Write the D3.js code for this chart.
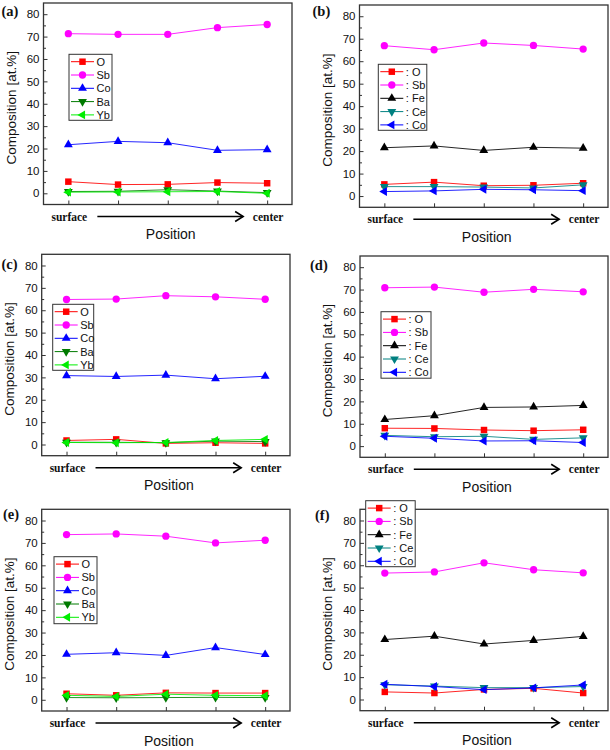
<!DOCTYPE html>
<html><head><meta charset="utf-8">
<script src="https://cdn.jsdelivr.net/npm/d3@7"></script>
<style>body{margin:0;background:#fff}svg{display:block}</style>
</head><body><svg id="c" width="610" height="750"></svg>
<script>
// ---------- data ----------
const positions = [1, 2, 3, 4, 5];
const endLabels = ["surface", "center"];
const yTicks = [0, 10, 20, 30, 40, 50, 60, 70, 80];
const yMinorTicks = [5, 15, 25, 35, 45, 55, 65, 75];
const panelLabels = ["(a)", "(b)", "(c)", "(d)", "(e)", "(f)"];
const seriesNamesYb = ["O", "Sb", "Co", "Ba", "Yb"];
const seriesNamesCe = ["O", "Sb", "Fe", "Ce", "Co"];
const legendPrefixes = ["", ": ", "", ": ", "", ": "];

const a_O  = [5.2, 3.9, 4.0, 4.8, 4.5];
const a_Sb = [71.3, 71.0, 71.0, 74.0, 75.4];
const a_Co = [21.7, 23.2, 22.6, 19.2, 19.5];
const a_Ba = [0.8, 0.9, 1.6, 1.0, 0.3];
const a_Yb = [0.5, 0.6, 0.7, 0.8, 0.0];

const b_O  = [5.2, 6.2, 4.6, 4.8, 5.7];
const b_Sb = [66.9, 65.1, 68.1, 67.0, 65.4];
const b_Fe = [21.5, 22.3, 20.3, 21.7, 21.3];
const b_Ce = [4.2, 4.2, 4.0, 3.6, 5.0];
const b_Co = [2.0, 2.3, 3.0, 2.8, 2.4];

const c_O  = [1.8, 2.3, 0.5, 0.8, 0.5];
const c_Sb = [64.8, 65.0, 66.5, 66.0, 64.9];
const c_Co = [30.8, 30.4, 31.0, 29.4, 30.5];
const c_Ba = [1.0, 1.0, 0.8, 1.5, 1.3];
const c_Yb = [0.9, 0.8, 0.9, 1.8, 2.3];

const d_O  = [8.0, 7.9, 7.2, 6.9, 7.3];
const d_Sb = [70.8, 71.1, 68.8, 70.1, 69.0];
const d_Fe = [11.9, 13.6, 17.3, 17.5, 18.2];
const d_Ce = [4.8, 4.2, 4.4, 3.0, 3.7];
const d_Co = [4.4, 3.5, 2.3, 2.4, 1.6];

const e_O  = [2.7, 2.0, 3.1, 3.0, 3.0];
const e_Sb = [73.7, 74.0, 73.0, 70.0, 71.2];
const e_Co = [20.3, 21.0, 19.8, 23.3, 20.2];
const e_Ba = [1.0, 0.9, 1.0, 1.1, 1.0];
const e_Yb = [2.0, 1.5, 2.5, 2.0, 1.8];

const f_O  = [3.4, 2.9, 4.5, 5.0, 2.9];
const f_Sb = [56.5, 57.0, 61.1, 58.0, 56.6];
const f_Fe = [26.8, 28.3, 24.8, 26.4, 28.2];
const f_Ce = [6.6, 6.0, 5.3, 5.3, 5.8];
const f_Co = [6.8, 5.8, 4.4, 5.2, 6.5];

const panelData = [
  [a_O, a_Sb, a_Co, a_Ba, a_Yb],
  [b_O, b_Sb, b_Fe, b_Ce, b_Co],
  [c_O, c_Sb, c_Co, c_Ba, c_Yb],
  [d_O, d_Sb, d_Fe, d_Ce, d_Co],
  [e_O, e_Sb, e_Co, e_Ba, e_Yb],
  [f_O, f_Sb, f_Fe, f_Ce, f_Co]
];

// ---------- styles ----------
const stylesYb = [
  {color: "#ff0000", sym: "square", rot: 0},
  {color: "#ff00ff", sym: "circle", rot: 0},
  {color: "#0000ff", sym: "tri", rot: 0},
  {color: "#007a00", sym: "tri", rot: 180},
  {color: "#00ee00", sym: "tri", rot: -90}
];
const stylesCe = [
  {color: "#ff0000", sym: "square", rot: 0},
  {color: "#ff00ff", sym: "circle", rot: 0},
  {color: "#000000", sym: "tri", rot: 0},
  {color: "#008080", sym: "tri", rot: 180},
  {color: "#0000ff", sym: "tri", rot: -90}
];

// ---------- layout ----------
const layout = [
  {l: 43.5, r: 292, t: 3,     b: 204.5, lab: [1.5, 15.5],   leg: [69, 54.3, 43, 66]},
  {l: 359.5, r: 608, t: 5,    b: 207.3, lab: [312.5, 16],   leg: [378.3, 64.3, 48.5, 66]},
  {l: 41.7, r: 290, t: 254.3, b: 455.7, lab: [1.5, 269],    leg: [52.7, 304.3, 41, 66]},
  {l: 360, r: 608, t: 256,    b: 457.3, lab: [310, 270],    leg: [381, 311.7, 50, 66.5]},
  {l: 41.7, r: 290, t: 509.3, b: 711,   lab: [3, 518.5],    leg: [54, 556.7, 43, 67]},
  {l: 360, r: 608, t: 509.3,  b: 710.7, lab: [315, 520],    leg: [365.7, 500.7, 49.5, 66]}
];

const svg = d3.select("#c");
const sans = "'Liberation Sans', Arial, sans-serif";
const serif = "'Liberation Serif', 'Times New Roman', serif";
const frameColor = "#333";

function symbolPath(s) {
  if (s.sym === "square") return d3.symbol(d3.symbolSquare, 42)();
  if (s.sym === "circle") return d3.symbol(d3.symbolCircle, 42)();
  return d3.symbol(d3.symbolTriangle, 34)();
}

panelData.forEach((series, pi) => {
  const L = layout[pi];
  const names = pi % 2 === 0 ? seriesNamesYb : seriesNamesCe;
  const styles = pi % 2 === 0 ? stylesYb : stylesCe;
  const x = d3.scaleLinear().domain([0.5, 5.5]).range([L.l, L.r]);
  const y = d3.scaleLinear().domain([-5, 85]).range([L.b, L.t]);
  const g = svg.append("g");

  // axes
  const yAx = g.append("g").attr("transform", `translate(${L.l},0)`)
    .call(d3.axisLeft(y).tickValues(yTicks).tickSize(-4).tickPadding(4).tickFormat(d3.format("d")));
  yAx.select(".domain").remove();
  yAx.selectAll("line").attr("stroke", frameColor).attr("stroke-width", 1);
  yAx.selectAll("text").attr("font-family", sans).attr("font-size", 11.5).attr("fill", "#111");
  const yMin = g.append("g").attr("transform", `translate(${L.l},0)`)
    .call(d3.axisLeft(y).tickValues(yMinorTicks).tickSize(-2.5).tickFormat(""));
  yMin.select(".domain").remove();
  yMin.selectAll("line").attr("stroke", frameColor).attr("stroke-width", 1);
  const xAx = g.append("g").attr("transform", `translate(0,${L.b})`)
    .call(d3.axisBottom(x).tickValues(positions).tickSize(-4).tickFormat(""));
  xAx.select(".domain").remove();
  xAx.selectAll("line").attr("stroke", frameColor).attr("stroke-width", 1);

  // frame
  g.append("rect").attr("x", L.l).attr("y", L.t).attr("width", L.r - L.l).attr("height", L.b - L.t)
    .attr("fill", "none").attr("stroke", frameColor).attr("stroke-width", 1.3);

  // series
  series.forEach((vals, si) => {
    const st = styles[si];
    const pts = vals.map((v, i) => [x(positions[i]), y(v)]);
    g.append("path").attr("d", d3.line()(pts)).attr("fill", "none")
      .attr("stroke", st.color).attr("stroke-width", 1).attr("stroke-opacity", 0.85);
    g.selectAll(null).data(pts).join("path")
      .attr("d", symbolPath(st))
      .attr("transform", d => `translate(${d[0]},${d[1]}) rotate(${st.rot})`)
      .attr("fill", st.color);
  });

  // legend
  const [lx, ly, lw, lh] = L.leg;
  const lg = g.append("g");
  lg.append("rect").attr("x", lx).attr("y", ly).attr("width", lw).attr("height", lh)
    .attr("fill", "#fff").attr("stroke", frameColor).attr("stroke-width", 1);
  const rowH = 13.3;
  names.forEach((n, si) => {
    const st = styles[si];
    const ry = ly + 7.4 + si * rowH;
    lg.append("line").attr("x1", lx + 2).attr("x2", lx + 25).attr("y1", ry).attr("y2", ry)
      .attr("stroke", st.color).attr("stroke-width", 1);
    lg.append("path").attr("d", symbolPath(st))
      .attr("transform", `translate(${lx + 13.5},${ry}) rotate(${st.rot})`).attr("fill", st.color);
    lg.append("text").attr("x", lx + 27.5).attr("y", ry).attr("dy", "0.36em")
      .attr("font-family", sans).attr("font-size", 11).attr("fill", "#111")
      .text(legendPrefixes[pi] + n);
  });

  // panel label
  g.append("text").attr("x", L.lab[0]).attr("y", L.lab[1])
    .attr("font-family", serif).attr("font-weight", "bold").attr("font-size", 14.5).attr("fill", "#111")
    .text(panelLabels[pi]);

  // y title
  const cy = (L.t + L.b) / 2 + 4;
  g.append("text").attr("transform", `translate(${L.l - 28},${cy}) rotate(-90)`)
    .attr("text-anchor", "middle").attr("font-family", sans).attr("font-size", 13.5).attr("fill", "#111")
    .text("Composition [at.%]");

  // surface / center labels
  const x1 = x(positions[0]), x5 = x(positions[positions.length - 1]);
  g.append("text").attr("x", x1 + 1).attr("y", L.b + 16).attr("text-anchor", "middle")
    .attr("font-family", serif).attr("font-weight", "bold").attr("font-size", 11.5).attr("fill", "#111")
    .text(endLabels[0]);
  g.append("text").attr("x", x5 + 1).attr("y", L.b + 16).attr("text-anchor", "middle")
    .attr("font-family", serif).attr("font-weight", "bold").attr("font-size", 11.5).attr("fill", "#111")
    .text(endLabels[1]);
  // arrow
  const ay = L.b + 12, ax1 = x1 + 29, ax2 = x5 - 24;
  g.append("line").attr("x1", ax1).attr("x2", ax2).attr("y1", ay).attr("y2", ay)
    .attr("stroke", "#000").attr("stroke-width", 1.6);
  g.append("path").attr("d", `M${ax2 - 8},${ay - 5} L${ax2},${ay} L${ax2 - 8},${ay + 5}`)
    .attr("fill", "none").attr("stroke", "#000").attr("stroke-width", 1.6);

  // x title
  g.append("text").attr("x", (L.l + L.r) / 2 + 3).attr("y", L.b + 34.5).attr("text-anchor", "middle")
    .attr("font-family", sans).attr("font-size", 14).attr("fill", "#111").text("Position");
});
</script></body></html>
